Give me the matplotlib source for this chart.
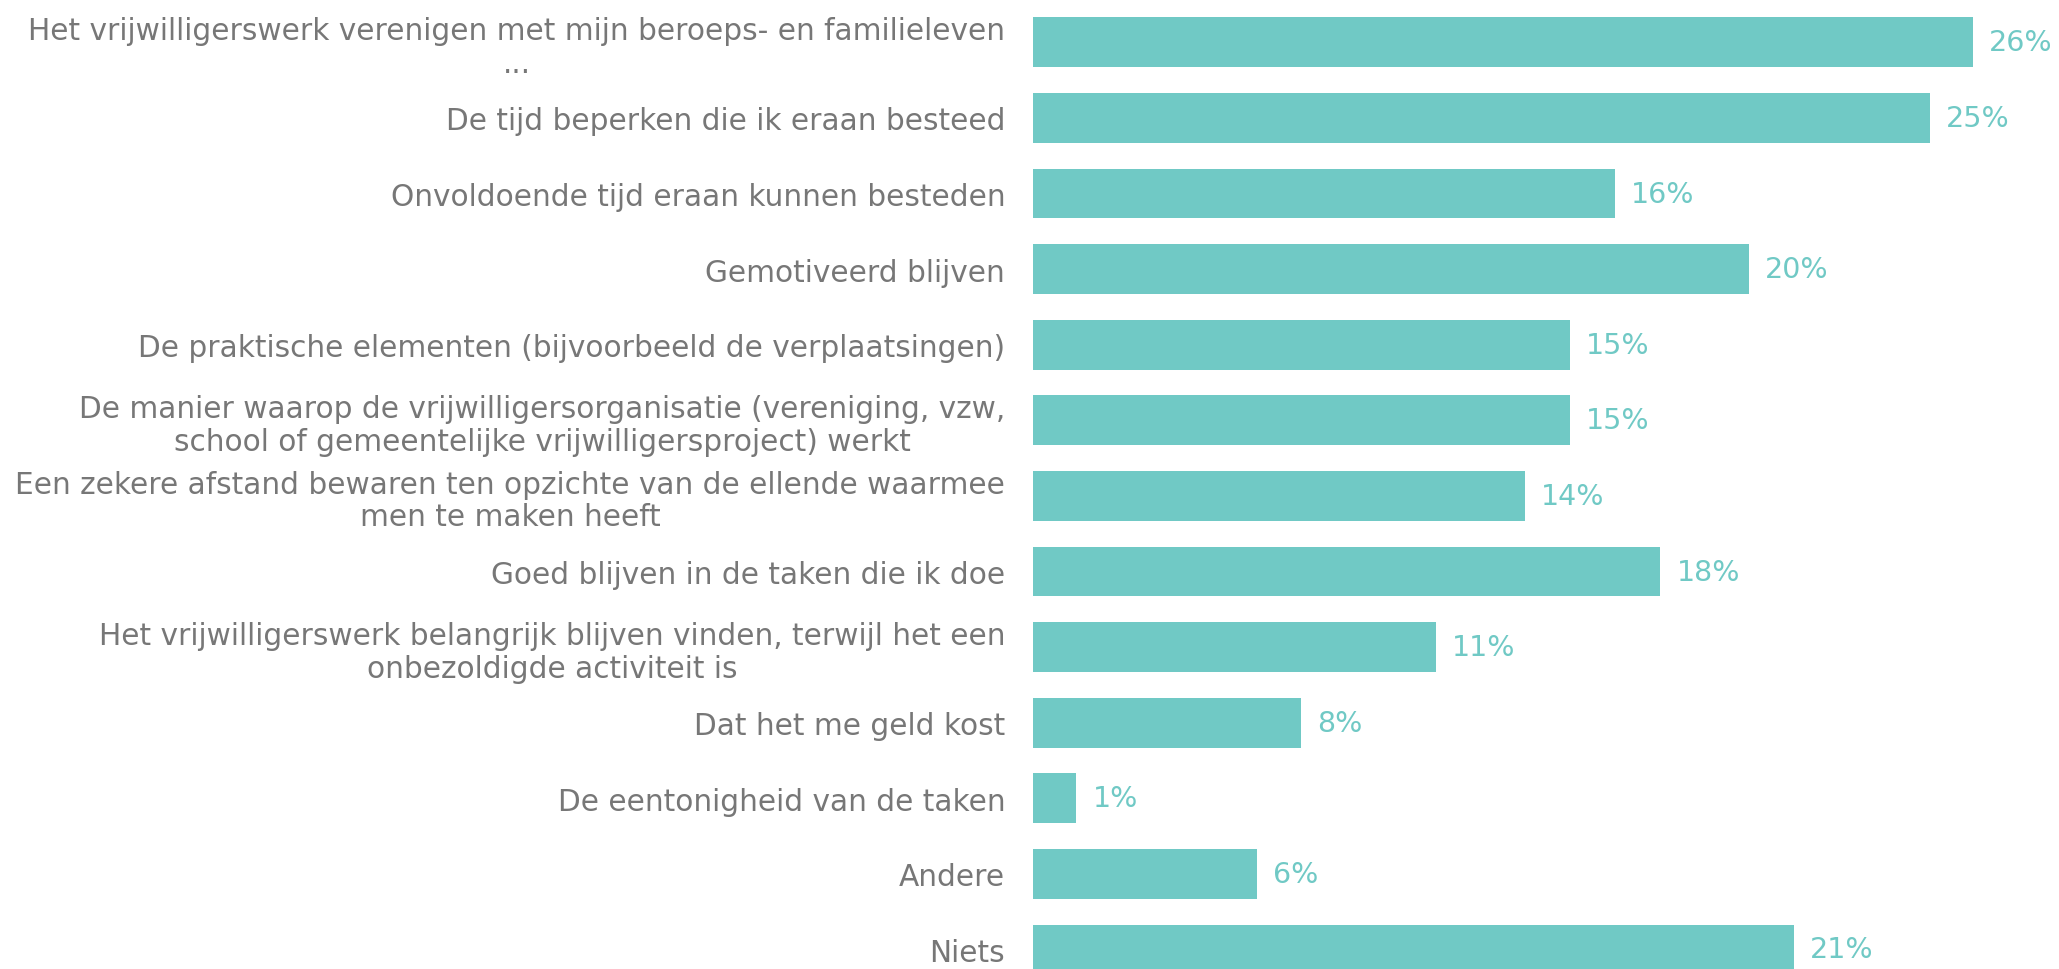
import numpy as np
import matplotlib.pyplot as plt

categories = [
    'Het vrijwilligerswerk verenigen met mijn beroeps- en familieleven\n...',
    'De tijd beperken die ik eraan besteed',
    'Onvoldoende tijd eraan kunnen besteden',
    'Gemotiveerd blijven',
    'De praktische elementen (bijvoorbeeld de verplaatsingen)',
    'De manier waarop de vrijwilligersorganisatie (vereniging, vzw,\nschool of gemeentelijke vrijwilligersproject) werkt',
    'Een zekere afstand bewaren ten opzichte van de ellende waarmee\nmen te maken heeft',
    'Goed blijven in de taken die ik doe',
    'Het vrijwilligerswerk belangrijk blijven vinden, terwijl het een\nonbezoldigde activiteit is',
    'Dat het me geld kost',
    'De eentonigheid van de taken',
    'Andere',
    'Niets',
]
# bar lengths as drawn (the printed labels are rounded)
bar_values = [26.0, 24.8, 16.1, 19.8, 14.85, 14.85, 13.6, 17.35, 11.15, 7.4, 1.2, 6.2, 21.05]
pct_labels = [26, 25, 16, 20, 15, 15, 14, 18, 11, 8, 1, 6, 21]

bar_color = '#70C9C5'
text_color = '#777777'

fig = plt.figure(figsize=(20.59, 9.70), dpi=100)
ax = fig.add_axes([1033 / 2059, 0, 1026 / 2059, 1])

y = np.arange(len(categories))
ax.barh(y, bar_values, height=0.66, color=bar_color)

for yi, v, p in zip(y, bar_values, pct_labels):
    ax.text(v + 0.45, yi, f'{p}%', va='center', ha='left',
            color=bar_color, fontsize=20.5)

ax.set_yticks(y)
ax.set_yticklabels(categories, fontsize=21.3, color=text_color)
for t in ax.get_yticklabels():
    t.set_multialignment('center')
    t.set_linespacing(1.15)
ax.tick_params(axis='y', length=0, pad=20)
ax.set_xticks([])
ax.set_xlim(0, 28.38)
ax.set_ylim(12.258, -0.573)
for s in ax.spines.values():
    s.set_visible(False)

fig.savefig('out.png', dpi=100)
